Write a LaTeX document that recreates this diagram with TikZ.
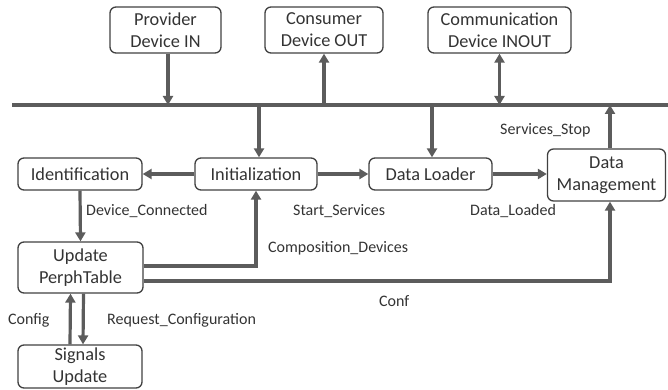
\documentclass[tikz,border=0pt]{standalone}
\usepackage{fontspec}
\setmainfont{Carlito}
\usetikzlibrary{arrows.meta}
\definecolor{boxc}{HTML}{404040}
\definecolor{arrc}{HTML}{5C5C5C}
\definecolor{txtc}{HTML}{333333}
\begin{document}
\begin{tikzpicture}[x=1pt,y=-1pt,
 box/.style={draw=boxc, line width=1.3pt, rounded corners=6pt, align=center, font=\fontsize{18.3}{22}\selectfont, text=txtc, inner sep=0pt},
 arr/.style={draw=arrc, line width=3.2pt, -{Triangle[length=9pt,width=10pt]}},
 darr/.style={draw=arrc, line width=3.2pt, {Triangle[length=9pt,width=10pt]}-{Triangle[length=9pt,width=10pt]}},
 lbl/.style={font=\fontsize{16}{18}\selectfont, text=txtc, inner sep=0pt},
]
\useasboundingbox (0,0) rectangle (668,390);
% top devices
\node[box, minimum width=111pt, minimum height=46pt] (prov) at (165.5,30) {Provider\\Device IN};
\node[box, minimum width=118pt, minimum height=46pt] (cons) at (324,30) {Consumer\\Device OUT};
\node[box, minimum width=143pt, minimum height=46pt] (comm) at (499.5,30) {Communication\\Device INOUT};
% bus
\coordinate (busL) at (12,105);
\coordinate (busR) at (668,105);
\draw[draw=arrc, line width=4pt] (busL) -- (busR);
% second row
\node[box, minimum width=124pt, minimum height=32pt] (ident) at (80,174) {Identification};
\node[box, minimum width=122pt, minimum height=32pt] (init) at (256,174) {Initialization};
\node[box, minimum width=123pt, minimum height=32pt] (dl) at (430.5,174) {Data Loader};
\node[box, minimum width=118pt, minimum height=52pt] (dm) at (606.5,175) {Data\\Management};
\node[box, minimum width=125pt, minimum height=51pt] (upd) at (80.5,267.5) {Update\\PerphTable};
\node[box, minimum width=124pt, minimum height=43pt] (sig) at (80,366.5) {Signals\\Update};
% device arrows
\draw[arr] ([xshift=2.5pt]prov.south) -- ([xshift=2.5pt]prov.south |- busL);
\draw[arr] (cons.south |- busL) -- (cons.south);
\draw[darr] (comm.south |- busL) -- (comm.south);
% bus to row
\draw[arr] ([xshift=3pt]init.north |- busL) -- ([xshift=3pt]init.north);
\draw[arr] ([xshift=1.5pt]dl.north |- busL) -- ([xshift=1.5pt]dl.north);
\draw[arr] ([xshift=3.5pt]dm.north) -- ([xshift=3.5pt]dm.north |- busL);
% row arrows
\draw[arr] (init.west) -- (ident.east);
\draw[arr] (init.east) -- (dl.west);
\draw[arr] (dl.east) -- (dl.east -| dm.west);
\draw[arr] (ident.south) -- (upd.north);
\draw[arr] ([yshift=1.5pt]upd.east) -| (init.south);
\draw[arr] ([yshift=-13.5pt]upd.east) -| ([xshift=3.5pt]dm.south);
\draw[arr] ([xshift=-10pt]sig.north) -- ([xshift=-10pt]upd.south);
\draw[arr] ([xshift=3pt]upd.south) -- ([xshift=3pt]sig.north);
% labels
\node[lbl, anchor=west] (lsstop) at (500,130) {Services\_Stop};
\node[lbl, anchor=west] (ldc) at (86,211) {Device\_Connected};
\node[lbl, anchor=west] (lss) at (293,211) {Start\_Services};
\node[lbl, anchor=west] (ldld) at (470,211) {Data\_Loaded};
\node[lbl, anchor=west] (lcd) at (268,248) {Composition\_Devices};
\node[lbl, anchor=west] (lconf) at (379,301) {Conf};
\node[lbl, anchor=west] (lcfg) at (8,320) {Config};
\node[lbl, anchor=west] (lrc) at (107,320) {Request\_Configuration};
\end{tikzpicture}
\end{document}
